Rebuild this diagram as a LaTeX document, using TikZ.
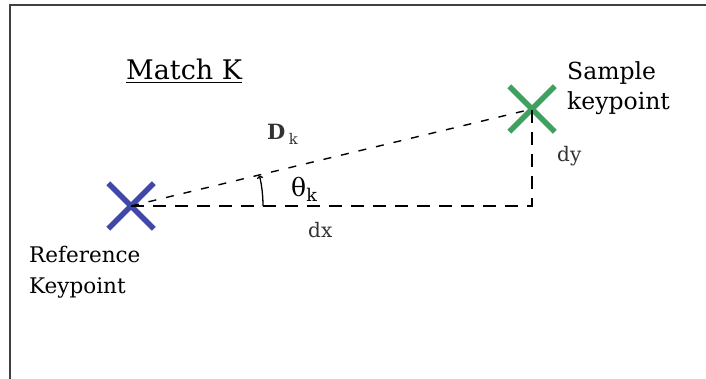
\documentclass[tikz,border=0pt]{standalone}
\usepackage{fontspec}
\setmainfont{DejaVu Serif}
\newcommand{\thickul}[1]{\setbox0\hbox{#1}\rlap{\rule[-3.5pt]{\wd0}{1.8pt}}\box0}
\usetikzlibrary{arrows.meta, shapes.misc}

\definecolor{refblue}{RGB}{66,72,170}
\definecolor{smpgreen}{RGB}{64,160,96}
\definecolor{labelgray}{RGB}{50,50,50}

\begin{document}
\begin{tikzpicture}[x=1pt, y=-1pt,
    keypt/.style={cross out, draw, line width=5.5pt, minimum size=40pt, inner sep=0pt},
    txt/.style={anchor=base west, inner sep=0pt, align=left},
    lbl/.style={anchor=base west, inner sep=0pt, text=labelgray, font=\fontsize{20}{20}\selectfont},
    hline/.style={line width=1.5pt, dash pattern=on 13pt off 9pt},
    dline/.style={line width=1.4pt, dash pattern=on 8pt off 10pt},
]
\useasboundingbox (0,0) rectangle (706,379);

% frame
\draw[line width=2pt, draw=black!75] (10,385) -- (10,5) -- (712,5);

% keypoints
\node[keypt, draw=refblue] (ref) at (131,206) {};
\node[keypt, draw=smpgreen] (smp) at (532,109) {};
\coordinate (corner) at (smp |- ref);

% distance and its components
\draw[dline] (ref.center) -- (smp.center);
\draw[hline] (ref.center) -- (corner) -- (smp.center);

% angle
\draw[line width=1.3pt, -{To[length=3pt]}] ([xshift=132pt]ref.center)
    arc[start angle=0, end angle=-13.3, radius=132];

% labels
\node[txt, font=\fontsize{27}{27}\selectfont] (title) at (126,80) {\thickul{Match K}};
\node[txt, font=\fontsize{23.5}{30}\selectfont] (smplbl) at (567,110) {Sample\\keypoint};
\node[txt, font=\fontsize{21.5}{31}\selectfont] (reflbl) at (29,293) {Reference\\Keypoint};
\node[lbl, font=\fontsize{21}{21}\selectfont] (dk) at (267,140) {\textbf{D}\,\textsubscript{k}};
\node[lbl, text=black, font=\fontsize{25}{25}\selectfont] (theta) at (291,197) {θ\textsubscript{k}};
\node[lbl] (dx) at (308,237) {dx};
\node[lbl] (dy) at (557,162) {dy};
\end{tikzpicture}
\end{document}
